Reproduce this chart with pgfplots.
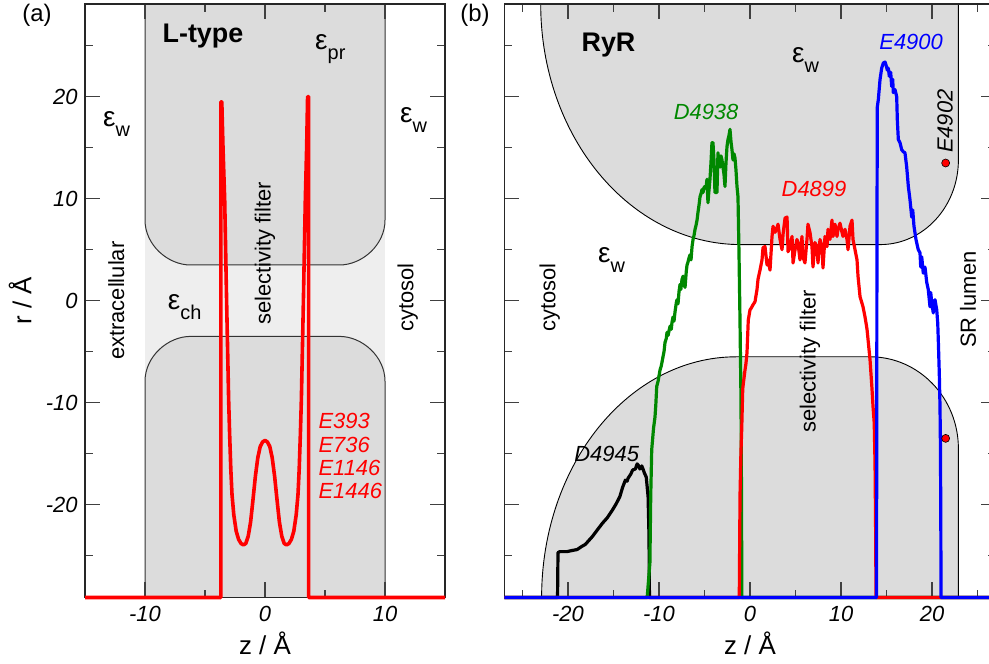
\documentclass[border=0pt]{standalone}
\usepackage{fontspec}
\setmainfont{Liberation Sans}
\usepackage{pgfplots}
\pgfplotsset{compat=1.18}
\definecolor{gshade}{RGB}{220,220,220}
\definecolor{chfill}{RGB}{238,238,238}
\definecolor{dgreen}{RGB}{0,136,0}
\newcommand{\epsl}[1]{{\fontsize{28}{28}\selectfont ε}\raisebox{-10bp}{\fontsize{20}{20}\selectfont #1}}
\tikzset{txt/.style={font=\fontsize{22}{22}\selectfont, inner sep=0pt}}
\pgfplotsset{
  geomA/.style={scale only axis, at={(85bp,66.5bp)}, anchor=south west, width=360bp, height=593.6bp,
    xmin=-15, xmax=15, ymin=-29.1, ymax=29.1, clip=false},
  geomB/.style={scale only axis, at={(504.3bp,66.5bp)}, anchor=south west, width=491.4bp, height=593.6bp,
    xmin=-27, xmax=27, ymin=-29.1, ymax=29.1, clip=false},
  panel/.style={
    axis line style={line width=1.3bp, black!85},
    every major tick/.append style={draw=black!75, line width=1.2bp},
    every minor tick/.append style={draw=black!75, line width=1.2bp},
    major tick length=0.53cm, minor tick length=0.28cm,
    tick align=inside, xtick pos=both, ytick pos=both,
    ytick={-20,-10,0,10,20}, minor ytick={-25,-15,-5,5,15,25},
    tick label style={font=\fontsize{22}{22}\selectfont\itshape},
    xticklabel style={yshift=-5bp},
    yticklabel style={xshift=-4bp},
    xlabel={z / Å},
    xlabel style={font=\fontsize{26}{26}\selectfont, at={(axis description cs:0.5,-0.077)}, anchor=center},
    ylabel style={font=\fontsize{26}{26}\selectfont},
  },
}
\begin{document}
\begin{tikzpicture}
%% ---------------- panel (a) background
\begin{axis}[geomA, hide axis]
\fill[chfill] (axis cs:-10,-8) rectangle (axis cs:10,8);
\fill[gshade] (axis cs:-10,29.1) -- (axis cs:-10,7.9) .. controls (axis cs:-10,5.47) and (axis cs:-8.1,3.5) .. (axis cs:-6.2,3.5) -- (axis cs:6.2,3.5) .. controls (axis cs:8.1,3.5) and (axis cs:10,5.47) .. (axis cs:10,7.9) -- (axis cs:10,29.1) -- cycle;
\draw[line width=1bp, black!80] (axis cs:-10,29.1) -- (axis cs:-10,7.9) .. controls (axis cs:-10,5.47) and (axis cs:-8.1,3.5) .. (axis cs:-6.2,3.5) -- (axis cs:6.2,3.5) .. controls (axis cs:8.1,3.5) and (axis cs:10,5.47) .. (axis cs:10,7.9) -- (axis cs:10,29.1);
\fill[gshade] (axis cs:-10,-29.1) -- (axis cs:-10,-7.9) .. controls (axis cs:-10,-5.47) and (axis cs:-8.1,-3.5) .. (axis cs:-6.2,-3.5) -- (axis cs:6.2,-3.5) .. controls (axis cs:8.1,-3.5) and (axis cs:10,-5.47) .. (axis cs:10,-7.9) -- (axis cs:10,-29.1) -- cycle;
\draw[line width=1bp, black!80] (axis cs:-10,-29.1) -- (axis cs:-10,-7.9) .. controls (axis cs:-10,-5.47) and (axis cs:-8.1,-3.5) .. (axis cs:-6.2,-3.5) -- (axis cs:6.2,-3.5) .. controls (axis cs:8.1,-3.5) and (axis cs:10,-5.47) .. (axis cs:10,-7.9) -- (axis cs:10,-29.1);
\end{axis}
%% ---------------- panel (a)
\begin{axis}[geomA, panel,
  xtick={-10,0,10}, xticklabels={-10,0,10}, minor xtick={-5,5},
  yticklabels={-20,-10,0,10,20},
  ylabel={r / Å}, ylabel style={at={(axis description cs:-0.18,0.5)}, anchor=center}]
\addplot[red, line width=3.6bp, line join=round] coordinates {
(-15,-29.1) (-3.68,-29.1) (-3.68,19.5) (-3.6,19.5) (-3.5,15) (-3.36,9.9) (-3.2,0) (-3.03,-9.7) (-2.95,-13) (-2.85,-16.5) (-2.75,-19) (-2.6,-21) (-2.4,-22.6) (-2.2,-23.4) (-2.0,-23.8) (-1.8,-23.95) (-1.6,-23.8) (-1.4,-23.1) (-1.2,-21.7) (-1.0,-19.5) (-0.8,-17.2) (-0.6,-15.4) (-0.4,-14.3) (-0.2,-13.85) (0,-13.7) (0.2,-13.85) (0.4,-14.3) (0.6,-15.4) (0.8,-17.2) (1.0,-19.5) (1.2,-21.7) (1.4,-23.1) (1.6,-23.8) (1.8,-23.95) (2.0,-23.8) (2.2,-23.4) (2.4,-22.6) (2.6,-21) (2.75,-19) (2.85,-16.5) (2.95,-13) (3.03,-9.7) (3.2,0) (3.36,9.9) (3.47,15) (3.55,20) (3.64,20) (3.64,-29.1) (15,-29.1)};
\node[font=\fontsize{27}{27}\selectfont\bfseries, inner sep=0pt, anchor=base] at (axis cs:-5.17,25.3) {L-type};
\node[inner sep=0pt, anchor=base west] at (axis cs:4.17,24.6) {\epsl{pr}};
\node[inner sep=0pt, anchor=base west] at (axis cs:-13.5,17.1) {\epsl{w}};
\node[inner sep=0pt, anchor=base west] at (axis cs:11.25,17.45) {\epsl{w}};
\node[inner sep=0pt, anchor=base west] at (axis cs:-8.1,-0.9) {\epsl{ch}};
\node[txt, rotate=90] at (axis cs:-12.4,0) {extracellular};
\node[txt, rotate=90] at (axis cs:0,4.65) {selectivity filter};
\node[txt, rotate=90] at (axis cs:11.9,0.3) {cytosol};
\node[txt, text=red, font=\fontsize{22}{22}\selectfont\itshape, anchor=base west] at (axis cs:4.45,-12.55) {E393};
\node[txt, text=red, font=\fontsize{22}{22}\selectfont\itshape, anchor=base west] at (axis cs:4.45,-14.9) {E736};
\node[txt, text=red, font=\fontsize{22}{22}\selectfont\itshape, anchor=base west] at (axis cs:4.45,-17.16) {E1146};
\node[txt, text=red, font=\fontsize{22}{22}\selectfont\itshape, anchor=base west] at (axis cs:4.45,-19.4) {E1446};
\end{axis}
%% ---------------- panel (b) background
\begin{axis}[geomB, hide axis]
\fill[gshade] (axis cs:-23,29.1) .. controls (axis cs:-23,16.07) and (axis cs:-13.15,5.5) .. (axis cs:-1,5.5) -- (axis cs:14.3,5.5) .. controls (axis cs:19.05,5.5) and (axis cs:22.9,9.22) .. (axis cs:22.9,13.8) -- (axis cs:22.9,29.1) -- cycle;
\draw[line width=0.9bp] (axis cs:-23,29.1) .. controls (axis cs:-23,16.07) and (axis cs:-13.15,5.5) .. (axis cs:-1,5.5) -- (axis cs:14.3,5.5) .. controls (axis cs:19.05,5.5) and (axis cs:22.9,9.22) .. (axis cs:22.9,13.8) -- (axis cs:22.9,29.1);
\fill[gshade] (axis cs:-22.9,-29.1) .. controls (axis cs:-22.9,-16.07) and (axis cs:-13.32,-5.5) .. (axis cs:-1.5,-5.5) -- (axis cs:13.2,-5.5) .. controls (axis cs:18.56,-5.5) and (axis cs:22.9,-9.53) .. (axis cs:22.9,-14.5) -- (axis cs:22.9,-29.1) -- cycle;
\draw[line width=0.9bp] (axis cs:-22.9,-29.1) .. controls (axis cs:-22.9,-16.07) and (axis cs:-13.32,-5.5) .. (axis cs:-1.5,-5.5) -- (axis cs:13.2,-5.5) .. controls (axis cs:18.56,-5.5) and (axis cs:22.9,-9.53) .. (axis cs:22.9,-14.5) -- (axis cs:22.9,-29.1);
\end{axis}
%% ---------------- panel (b)
\begin{axis}[geomB, panel,
  xtick={-20,-10,0,10,20}, xticklabels={-20,-10,0,10,20},
  minor xtick={-25,-15,-5,5,15,25}, yticklabels={}]
\addplot[black, line width=3.2bp, line join=round] coordinates {
(-27,-29.1) (-21.15,-29.1) (-21.1,-24.7) (-20.9,-24.6) (-20.1,-24.6) (-19.6,-24.5) (-19.0,-24.4) (-18.5,-24.1) (-18.1,-23.9) (-17.7,-23.5) (-17.3,-23.1) (-16.8,-22.5) (-16.2,-21.8) (-15.7,-21.3) (-15.1,-20.5) (-14.7,-19.9) (-14.3,-19.2) (-14.0,-18.3) (-13.7,-17.6) (-13.5,-17.7) (-13.4,-17.4) (-13.1,-17.0) (-12.9,-16.6) (-12.6,-16.5) (-12.4,-16.0) (-12.3,-16.1) (-12.1,-16.5) (-11.9,-16.2) (-11.8,-16.4) (-11.6,-16.9) (-11.4,-17.3) (-11.2,-19.2) (-11.1,-23) (-11.05,-29.1) (27,-29.1)};
\addplot[dgreen, line width=3.2bp, line join=round] coordinates {
(-27,-29.1) (-11.3,-29.1) (-11.0,-25.7) (-10.91,-19.2) (-10.8,-14.6) (-10.6,-12.5) (-10.44,-11.4) (-10.35,-10.2) (-10.25,-8.4) (-10.1,-7.9) (-9.89,-6.8) (-9.75,-6.4) (-9.56,-5.5) (-9.45,-5.0) (-9.34,-4.1) (-9.2,-3.7) (-9.12,-3.1) (-9.0,-3.4) (-8.79,-2.5) (-8.65,-2.8) (-8.57,-2.1) (-8.46,-1.6) (-8.35,-2.0) (-8.24,-1.1) (-8.1,-0.2) (-8.02,0.1) (-7.91,-0.3) (-7.8,0.9) (-7.69,1.6) (-7.6,1.1) (-7.47,2.1) (-7.36,2.4) (-7.25,1.7) (-7.14,1.3) (-7.0,2.9) (-6.92,3.5) (-6.81,3.8) (-6.7,4.2) (-6.59,4.5) (-6.48,4.0) (-6.37,5.3) (-6.26,6.0) (-6.15,6.4) (-6.04,7.0) (-5.93,7.4) (-5.82,7.9) (-5.71,8.7) (-5.60,9.4) (-5.49,10.2) (-5.38,10.5) (-5.27,10.9) (-5.16,10.6) (-5.05,11.1) (-4.95,11.2) (-4.84,11.0) (-4.73,11.9) (-4.62,9.6) (-4.51,10.8) (-4.40,11.9) (-4.29,13.5) (-4.18,15.5) (-4.07,15.5) (-3.96,13.8) (-3.85,10.6) (-3.63,10.6) (-3.52,14.5) (-3.41,13.4) (-3.30,13.1) (-3.19,14.2) (-3.08,13.8) (-2.97,13.1) (-2.86,12.4) (-2.75,11.2) (-2.64,13.5) (-2.53,15.1) (-2.42,15.8) (-2.31,16.2) (-2.20,16.8) (-2.09,15.6) (-1.98,14.8) (-1.87,13.8) (-1.76,14.4) (-1.65,14.0) (-1.54,12.8) (-1.43,11.2) (-1.32,10.2) (-1.21,4.7) (-1.10,-1.9) (-0.99,-9.7) (-0.93,-20) (-0.9,-29.1) (27,-29.1)};
\addplot[red, line width=3.2bp, line join=round] coordinates {
(-27,-29.1) (-1.18,-29.1) (-1.12,-22) (-1.10,-19.2) (-1.0,-15) (-0.91,-12.6) (-0.80,-8.7) (-0.77,-8.4) (-0.55,-6.8) (-0.45,-6.2) (-0.33,-5.1) (-0.19,-1.9) (0,-0.9) (0.15,-0.7) (0.33,-0.4) (0.55,-0.1) (0.77,1.1) (0.88,2.1) (1.10,3.0) (1.32,4.0) (1.43,5.2) (1.65,5.3) (1.87,3.5) (1.98,4.0) (2.20,3.0) (2.42,6.3) (2.53,7.3) (2.75,6.7) (2.97,7.2) (3.08,7.5) (3.30,6.0) (3.52,5.0) (3.63,6.5) (3.85,8.1) (4.07,8.2) (4.18,4.8) (4.40,5.3) (4.62,6.3) (4.73,3.7) (4.95,5.0) (5.16,6.0) (5.27,5.7) (5.49,4.0) (5.71,6.3) (5.82,4.3) (6.04,3.7) (6.26,6.0) (6.37,7.5) (6.59,6.7) (6.81,5.3) (6.92,3.3) (7.14,5.7) (7.36,5.3) (7.47,3.7) (7.69,6.0) (7.91,5.3) (8.02,3.2) (8.24,6.3) (8.46,5.3) (8.57,7.0) (8.79,6.0) (9.01,7.9) (9.12,6.3) (9.34,7.5) (9.56,6.3) (9.67,7.0) (9.89,7.6) (10.11,6.7) (10.22,6.3) (10.44,7.0) (10.66,6.0) (10.77,5.0) (10.99,7.3) (11.21,7.9) (11.32,6.0) (11.54,5.0) (11.76,4.0) (11.87,2.4) (12.09,0.4) (12.42,-0.6) (12.64,-1.6) (12.86,-2.8) (13.19,-5.8) (13.41,-8.7) (13.52,-10.4) (13.65,-12) (13.74,-16) (13.8,-22) (13.85,-29.1) (27,-29.1)};
\addplot[blue, line width=3.2bp, line join=round] coordinates {
(-27,-29.1) (13.9,-29.1) (13.93,-11.7) (13.95,6.0) (13.99,19.0) (14.10,19.7) (14.29,21.7) (14.47,22.8) (14.65,23.3) (14.84,23.4) (14.95,23.1) (15.09,22.6) (15.20,22.8) (15.31,22.0) (15.46,22.4) (15.57,21.0) (15.68,21.7) (15.75,20.4) (15.93,20.7) (16.12,20.0) (16.19,17.7) (16.30,15.8) (16.48,15.5) (16.67,14.8) (16.85,14.6) (17.03,14.5) (17.22,13.1) (17.40,11.2) (17.58,9.9) (17.77,8.2) (17.88,8.9) (18.02,7.3) (18.24,6.0) (18.49,5.0) (18.68,4.7) (18.76,3.3) (18.87,4.3) (19.04,2.7) (19.23,3.3) (19.42,1.8) (19.59,1.1) (19.78,-0.6) (19.86,0.8) (19.97,-0.2) (20.14,-1.2) (20.33,0.1) (20.52,-0.9) (20.63,-2.2) (20.69,-3.8) (20.80,-7.1) (20.88,-10.4) (20.93,-14.6) (20.97,-22) (20.99,-29.1) (27,-29.1)};
\addplot[only marks, mark=*, mark size=4bp, mark options={fill=red, draw=black, line width=0.6bp}] coordinates {(21.5,13.5) (21.5,-13.5)};
\node[font=\fontsize{27}{27}\selectfont\bfseries, inner sep=0pt, anchor=base] at (axis cs:-15.55,24.4) {RyR};
\node[inner sep=0pt, anchor=base west] at (axis cs:4.6,23.4) {\epsl{w}};
\node[inner sep=0pt, anchor=base west] at (axis cs:-16.7,3.7) {\epsl{w}};
\node[txt, text=dgreen, font=\fontsize{22}{22}\selectfont\itshape, anchor=base] at (axis cs:-4.83,17.75) {D4938};
\node[txt, text=red, font=\fontsize{22}{22}\selectfont\itshape, anchor=base] at (axis cs:7.03,10.2) {D4899};
\node[txt, text=blue, font=\fontsize{22}{22}\selectfont\itshape, anchor=base] at (axis cs:17.7,24.6) {E4900};
\node[txt, font=\fontsize{22}{22}\selectfont\itshape, anchor=base] at (axis cs:-15.75,-15.8) {D4945};
\node[txt, font=\fontsize{22}{22}\selectfont\itshape, rotate=90] at (axis cs:21.43,17.6) {E4902};
\node[txt, rotate=90] at (axis cs:-22,0.3) {cytosol};
\node[txt, rotate=90] at (axis cs:6.6,-5.93) {selectivity filter};
\node[txt, rotate=90] at (axis cs:23.96,0.1) {SR lumen};
\end{axis}
\node[font=\fontsize{24}{24}\selectfont] at (37bp,649bp) {(a)};
\node[font=\fontsize{24}{24}\selectfont] at (475bp,649bp) {(b)};
\pgfresetboundingbox
\useasboundingbox (0,0) rectangle (989bp,664bp);
\end{tikzpicture}
\end{document}
